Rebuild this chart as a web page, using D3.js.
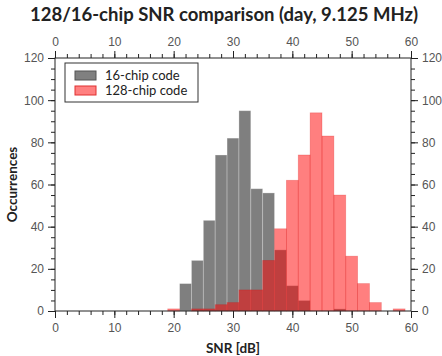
<!DOCTYPE html>
<html><head><meta charset="utf-8">
<script src="https://cdn.jsdelivr.net/npm/d3@7"></script>
<style>body{margin:0;background:#fff}svg{display:block}</style>
</head><body>
<script>
const binStarts = [19,21,23,25,27,29,31,33,35,37,39,41,43,45,47,49,51,53,55,57];
const chip16 =   [0,13,24,43,74,82,95,58,56,29,12,5,0,0,1,0,0,0,0,0];
const chip128 =  [1,0,1,1,3,4,10,10,24,39,62,74,94,83,55,26,13,4,0,1];
const binWidth = 2;
const xTicks = [0,10,20,30,40,50,60];
const yTicks = [0,20,40,60,80,100,120];
const seriesNames = ["16-chip code","128-chip code"];

const W=442,H=356;
const m={l:55,r:31,t:58,b:45};
const svg=d3.select("body").append("svg").attr("width",W).attr("height",H)
  .style("font-family","Lato, 'Open Sans', sans-serif");
const x=d3.scaleLinear().domain([0,60]).range([m.l,W-m.r]);
const y=d3.scaleLinear().domain([0,120]).range([H-m.b,m.t]);

function bars(vals,fill,stroke){
  svg.append("g").selectAll("rect").data(binStarts.map((s,i)=>({s,v:vals[i]})).filter(d=>d.v>0))
   .join("rect")
   .attr("x",d=>x(d.s)).attr("width",d=>x(d.s+binWidth)-x(d.s))
   .attr("y",d=>y(d.v)).attr("height",d=>y(0)-y(d.v))
   .attr("fill",fill).attr("stroke",stroke).attr("stroke-width",0.8);
}
bars(chip16,"rgba(0,0,0,0.5)","rgba(255,255,255,0.35)");
bars(chip128,"rgba(255,0,0,0.5)","rgba(210,0,0,0.25)");

const tc="#555";
function styleAxis(g){
  g.select(".domain").remove();
  g.selectAll("text").attr("fill",tc).style("font-size","12px");
  g.selectAll("line").attr("stroke","#222");
}
const xMinor=d3.range(0,61,2), yMinor=d3.range(0,121,5);
[[d3.axisBottom(x),H-m.b],[d3.axisTop(x),m.t]].forEach(([a,t])=>{
  svg.append("g").attr("transform",`translate(0,${t})`).call(a.tickValues(xMinor).tickSize(4).tickFormat("")).call(styleAxis);
  svg.append("g").attr("transform",`translate(0,${t})`).call(a.tickValues(xTicks).tickSize(7).tickPadding(5).tickFormat(d3.format("d"))).call(styleAxis);
});
[[d3.axisLeft(y),m.l],[d3.axisRight(y),W-m.r]].forEach(([a,t])=>{
  svg.append("g").attr("transform",`translate(${t},0)`).call(a.tickValues(yMinor).tickSize(4).tickFormat("")).call(styleAxis);
  svg.append("g").attr("transform",`translate(${t},0)`).call(a.tickValues(yTicks).tickSize(7).tickPadding(4).tickFormat(d3.format("d"))).call(styleAxis);
});
svg.append("rect").attr("x",m.l).attr("y",m.t).attr("width",W-m.r-m.l).attr("height",H-m.b-m.t)
  .attr("fill","none").attr("stroke","#222").attr("stroke-width",1);

svg.append("text").attr("x",224).attr("y",21).attr("text-anchor","middle")
  .style("font-size","18.5px").style("font-weight","bold").attr("fill","#222")
  .text("128/16-chip SNR comparison (day, 9.125 MHz)");
svg.append("text").attr("x",(m.l+W-m.r)/2).attr("y",H-3).attr("text-anchor","middle")
  .style("font-size","13.5px").style("font-weight","bold").attr("fill","#222").text("SNR [dB]");
svg.append("text").attr("transform",`translate(17,${(m.t+H-m.b)/2}) rotate(-90)`).attr("text-anchor","middle")
  .style("font-size","13.5px").style("font-weight","bold").attr("fill","#222").text("Occurrences");

const lg=svg.append("g");
lg.append("rect").attr("x",65).attr("y",63).attr("width",133).attr("height",39)
  .attr("fill","#fff").attr("stroke","#333").attr("stroke-width",1);
const lfill=["#808080","#ff8080"], lstroke=["#555","#e03030"];
seriesNames.forEach((n,i)=>{
  lg.append("rect").attr("x",75).attr("y",71+i*15).attr("width",21).attr("height",9)
    .attr("fill",lfill[i]).attr("stroke",lstroke[i]);
  lg.append("text").attr("x",105).attr("y",80+i*15).style("font-size","13px").attr("fill","#222").text(n);
});
</script>
</body></html>
